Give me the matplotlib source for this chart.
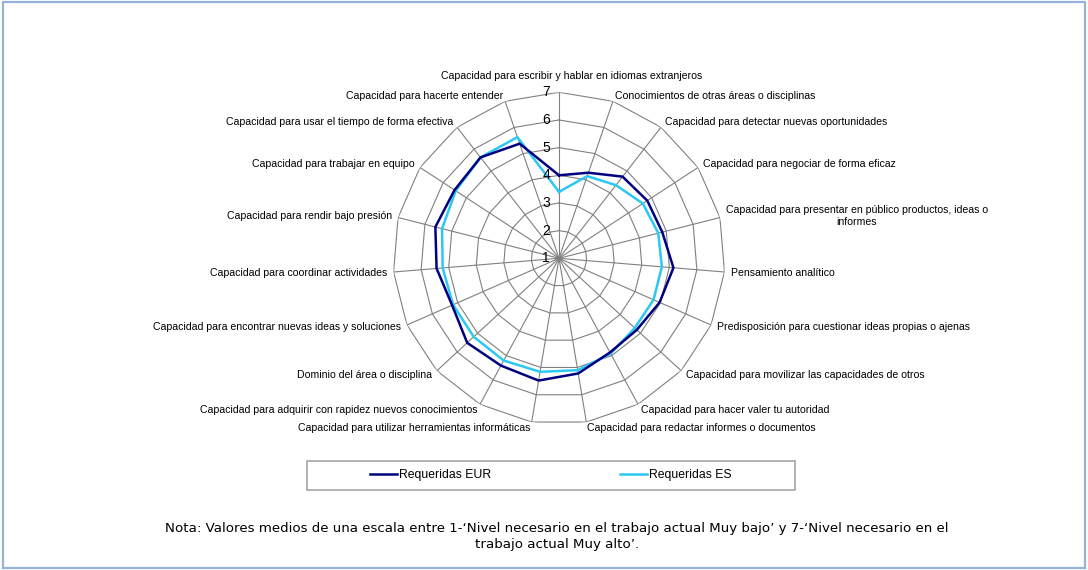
import numpy as np
import matplotlib
matplotlib.use('Agg')
import matplotlib.pyplot as plt
import matplotlib.transforms as mtrans
from matplotlib.patches import Rectangle
from matplotlib.lines import Line2D

# competencias (en el sentido de las agujas del reloj, empezando arriba)
categories = [
    'Capacidad para escribir y hablar en idiomas extranjeros',
    'Conocimientos de otras áreas o disciplinas',
    'Capacidad para detectar nuevas oportunidades',
    'Capacidad para negociar de forma eficaz',
    'Capacidad para presentar en público productos, ideas o\ninformes',
    'Pensamiento analítico',
    'Predisposición para cuestionar ideas propias o ajenas',
    'Capacidad para movilizar las capacidades de otros',
    'Capacidad para hacer valer tu autoridad',
    'Capacidad para redactar informes o documentos',
    'Capacidad para utilizar herramientas informáticas',
    'Capacidad para adquirir con rapidez nuevos conocimientos',
    'Dominio del área o disciplina',
    'Capacidad para encontrar nuevas ideas y soluciones',
    'Capacidad para coordinar actividades',
    'Capacidad para rendir bajo presión',
    'Capacidad para trabajar en equipo',
    'Capacidad para usar el tiempo de forma efectiva',
    'Capacidad para hacerte entender',
]

req_eur = [4.0, 4.27, 4.74, 4.81, 4.85, 5.15, 4.97, 4.82, 4.87, 5.22,
           5.48, 5.41, 5.51, 5.22, 5.44, 5.61, 5.51, 5.62, 5.38]
req_es = [3.4, 4.14, 4.35, 4.62, 4.7, 4.73, 4.73, 4.72, 4.92, 5.1,
          5.16, 5.2, 5.19, 5.18, 5.22, 5.36, 5.46, 5.62, 5.63]

levels = [1, 2, 3, 4, 5, 6, 7]

legend_names = ['Requeridas EUR', 'Requeridas ES']
note = ('Nota: Valores medios de una escala entre 1-\u2018Nivel necesario en el trabajo actual Muy bajo\u2019 '
        'y 7-\u2018Nivel necesario en el\ntrabajo actual Muy alto\u2019.')

c_eur = '#000080'
c_es = '#2cc8f5'
c_grid = '#808080'
lab_font = 'Liberation Sans'

fig = plt.figure(figsize=(10.88, 5.70), dpi=100)
ax = fig.add_axes([0.3612, 0.2556, 0.3052, 0.5825], projection='polar')
ax.set_theta_offset(np.pi / 2)
ax.set_theta_direction(-1)
ax.set_ylim(levels[0], levels[-1])
ax.grid(False)
ax.set_xticks([])
ax.set_yticks([])
ax.spines['polar'].set_visible(False)
ax.patch.set_alpha(0)

n = len(categories)
angles = np.arange(n) * 2 * np.pi / n
closed = np.append(angles, angles[0])

# rejilla poligonal
for lv in levels[1:]:
    ax.plot(closed, [lv] * (n + 1), color=c_grid, lw=0.8, zorder=1)
for a in angles:
    ax.plot([a, a], [levels[0], levels[-1]], color=c_grid, lw=0.8, zorder=1)

# series
ax.plot(closed, req_eur + [req_eur[0]], color=c_eur, lw=1.8, zorder=3)
ax.plot(closed, req_es + [req_es[0]], color=c_es, lw=1.8, zorder=2)

# escala radial
off = mtrans.ScaledTranslation(-6.5 / 72, 0, fig.dpi_scale_trans)
for lv in levels:
    ax.text(0, lv, str(lv), ha='right', va='center', fontsize=10,
            family=lab_font, transform=ax.transData + off, zorder=4)

# etiquetas de categorias
top_off = mtrans.ScaledTranslation(9 / 72, 0, fig.dpi_scale_trans)
for a, lab in zip(angles, categories):
    s = np.sin(a)
    tr = ax.transData
    if s > 0.05:
        ha = 'left'
    elif s < -0.05:
        ha = 'right'
    else:
        ha = 'center'
        tr = ax.transData + top_off
    r = 7.6 if abs(s) < 0.05 else 7.22
    ax.text(a, r, lab, ha=ha, va='center', fontsize=7.6, family=lab_font,
            multialignment='center', transform=tr)

# leyenda
fig.patches.append(Rectangle((0.2822, 0.1404), 0.4485, 0.0509, transform=fig.transFigure,
                             fill=False, edgecolor='#a6a6a6', lw=1.2))
handles = [Line2D([], [], color=c_eur, lw=1.8), Line2D([], [], color=c_es, lw=1.8)]
fig.legend(handles, legend_names, loc='center', bbox_to_anchor=(0.5064, 0.166), ncol=2,
           frameon=False, prop={'family': lab_font, 'size': 8.8}, handlelength=2.2,
           handletextpad=0.15, columnspacing=10.6)

# nota
fig.text(0.512, 0.059, note, ha='center', va='center', fontsize=9.6, family='DejaVu Sans',
         linespacing=1.35)

# marco
fig.patches.append(Rectangle((0.0025, 0.004), 0.995, 0.992, transform=fig.transFigure,
                             fill=False, edgecolor='#95b3d7', lw=1.6))

fig.savefig('out.png', dpi=100)
